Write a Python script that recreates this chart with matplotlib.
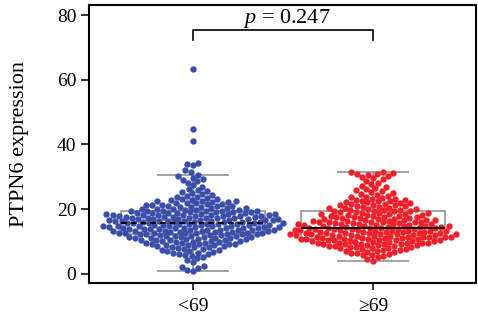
import numpy as np
import matplotlib
matplotlib.use("Agg")
import matplotlib.pyplot as plt

plt.rcParams['font.family'] = ['Liberation Serif', 'DejaVu Serif']
plt.rcParams['mathtext.fontset'] = 'custom'
plt.rcParams['mathtext.rm'] = 'Liberation Serif'
plt.rcParams['mathtext.it'] = 'Liberation Serif:italic'

# expression values per age group
groups = ['<69', '≥69']
expr_young = [
    0.9, 1.3, 1.7, 2.2, 2.5, 3.6, 4.3, 4.8, 5.2, 5.6, 5.9,
    6.1, 6.3, 6.4, 6.6, 6.9, 7.0, 7.2, 7.4, 7.5, 7.6, 7.8,
    8.0, 8.2, 8.3, 8.4, 8.5, 8.6, 8.8, 8.9,
    9.0, 9.1, 9.2, 9.3, 9.4, 9.5, 9.6, 9.7, 9.8, 9.9,
    10.0, 10.1, 10.2, 10.3, 10.4, 10.5, 10.5, 10.6, 10.7, 10.8, 10.9,
    11.0, 11.1, 11.2, 11.2, 11.3, 11.4, 11.4, 11.5, 11.6, 11.6, 11.7, 11.8, 11.9,
    12.0, 12.1, 12.2, 12.2, 12.3, 12.4, 12.4, 12.5, 12.5, 12.6, 12.6, 12.7, 12.8, 12.8, 12.9,
    13.0, 13.1, 13.1, 13.2, 13.2, 13.3, 13.3, 13.4, 13.5, 13.5, 13.6, 13.6, 13.7, 13.7, 13.8, 13.9, 13.9,
    14.0, 14.1, 14.1, 14.2, 14.2, 14.3, 14.3, 14.4, 14.5, 14.5, 14.6, 14.7, 14.7, 14.8, 14.8, 14.9, 14.9,
    15.0, 15.0, 15.1, 15.2, 15.2, 15.3, 15.3, 15.4, 15.4, 15.5, 15.6, 15.6, 15.7, 15.7, 15.8, 15.9, 15.9,
    16.0, 16.1, 16.1, 16.2, 16.3, 16.3, 16.4, 16.4, 16.5, 16.5, 16.6, 16.6, 16.7, 16.8, 16.8, 16.9, 16.9,
    17.0, 17.0, 17.1, 17.2, 17.2, 17.3, 17.3, 17.4, 17.4, 17.5, 17.6, 17.6, 17.7, 17.8, 17.8, 17.9, 17.9,
    18.0, 18.1, 18.1, 18.2, 18.2, 18.3, 18.3, 18.4, 18.5, 18.5, 18.6, 18.7, 18.7, 18.8, 18.9, 18.9,
    19.0, 19.1, 19.2, 19.2, 19.3, 19.4, 19.5, 19.5, 19.6, 19.6, 19.7, 19.8, 19.9,
    20.0, 20.1, 20.2, 20.3, 20.4, 20.5, 20.6, 20.7, 20.8, 20.9,
    21.0, 21.1, 21.2, 21.3, 21.4, 21.5, 21.6, 21.8, 21.9,
    22.0, 22.2, 22.3, 22.4, 22.5, 22.6, 22.7, 22.9,
    23.1, 23.3, 23.5, 23.7, 23.9, 24.1, 24.4, 24.6, 24.9,
    25.2, 25.5, 25.8, 26.3, 26.8, 27.4, 28.2, 28.7,
    29.1, 29.4, 29.8, 30.3, 30.7, 31.5, 32.2, 33.6, 34.1, 34.4,
    41.1, 44.8, 63.3,
]
expr_old = [
    4.0, 4.6, 5.1, 5.4, 5.7, 5.9, 6.1, 6.4, 6.6, 6.8, 6.9,
    7.0, 7.2, 7.3, 7.5, 7.6, 7.8, 7.9,
    8.0, 8.1, 8.2, 8.3, 8.4, 8.5, 8.6, 8.7, 8.8, 8.9,
    9.0, 9.1, 9.2, 9.3, 9.3, 9.4, 9.5, 9.5, 9.6, 9.7, 9.7, 9.8, 9.9,
    10.0, 10.1, 10.1, 10.2, 10.3, 10.4, 10.4, 10.5, 10.6, 10.6, 10.7, 10.8, 10.8, 10.9, 10.9,
    11.0, 11.1, 11.1, 11.2, 11.3, 11.3, 11.4, 11.4, 11.5, 11.5, 11.6, 11.7, 11.7, 11.8, 11.9, 11.9,
    12.0, 12.1, 12.1, 12.2, 12.3, 12.3, 12.4, 12.4, 12.5, 12.5, 12.6, 12.7, 12.7, 12.8, 12.9, 12.9,
    13.0, 13.1, 13.1, 13.2, 13.3, 13.3, 13.4, 13.4, 13.5, 13.6, 13.6, 13.7, 13.8, 13.8, 13.9, 13.9,
    14.0, 14.1, 14.2, 14.2, 14.3, 14.3, 14.4, 14.5, 14.5, 14.6, 14.7, 14.8, 14.8, 14.9, 14.9,
    15.0, 15.1, 15.2, 15.3, 15.3, 15.4, 15.5, 15.5, 15.6, 15.7, 15.8, 15.9, 15.9,
    16.0, 16.1, 16.2, 16.2, 16.3, 16.4, 16.5, 16.6, 16.6, 16.7, 16.8, 16.9,
    17.0, 17.1, 17.2, 17.3, 17.4, 17.5, 17.5, 17.6, 17.7, 17.8, 17.9,
    18.0, 18.1, 18.2, 18.3, 18.4, 18.5, 18.6, 18.7, 18.8, 18.9,
    19.0, 19.2, 19.3, 19.4, 19.5, 19.6, 19.7, 19.8, 19.9,
    20.0, 20.2, 20.3, 20.4, 20.5, 20.7, 20.8, 20.9,
    21.0, 21.2, 21.3, 21.4, 21.5, 21.7, 21.8, 21.9,
    22.1, 22.3, 22.4, 22.5, 22.6, 22.8, 22.9,
    23.1, 23.3, 23.6, 23.8, 23.9, 24.2, 24.5, 24.7, 24.9,
    25.2, 25.5, 25.8, 26.2, 26.5, 26.8, 27.3, 27.8, 28.1, 28.6,
    29.3, 29.7, 29.9, 30.2, 30.6, 30.9, 31.0, 31.3, 31.4, 31.5,
]

# box summary: whisker low, Q1, median, Q3, whisker high
box_young = [0.9, 12.4, 15.7, 19.5, 30.6]
box_old = [4.1, 10.8, 14.1, 19.6, 31.4]
p_value = 0.247

colors = ['#3b4fa9', '#f0202a']


def beeswarm(ax, xc, values, d):
    """Spread points sideways in pixel space so dots of diameter d don't overlap."""
    vals = np.asarray(values, float)
    pts = ax.transData.transform(np.column_stack([np.full(len(vals), xc), vals]))
    xs = np.zeros(len(vals))
    px, py = [], []
    for i in np.argsort(vals):
        x0, y0 = pts[i]
        ax_ = np.array(px)
        ay_ = np.array(py)
        if len(ax_):
            near = np.abs(ay_ - y0) < d
            nx, ny = ax_[near], ay_[near]
        else:
            nx, ny = np.array([]), np.array([])
        cands = [x0]
        for xp, yp in zip(nx, ny):
            dx = np.sqrt(d ** 2 - (yp - y0) ** 2)
            cands += [xp - dx, xp + dx]
        cands.sort(key=lambda c: abs(c - x0))
        for c in cands:
            if np.all((nx - c) ** 2 + (ny - y0) ** 2 >= d ** 2 - 1e-6):
                break
        xs[i] = c
        px.append(c)
        py.append(y0)
    inv = ax.transData.inverted()
    return inv.transform(np.column_stack([xs, pts[:, 1]]))[:, 0]


fig = plt.figure(figsize=(4.78, 3.27), dpi=100)
ax = fig.add_axes([0.186, 0.1346, 0.8096, 0.850])
ax.set_xlim(-0.578, 1.572)
ax.set_ylim(-2.8, 83.1)

positions = [0, 1]
for pos, data, box, col in zip(positions, [expr_young, expr_old],
                               [box_young, box_old], colors):
    lo, q1, med, q3, hi = box
    # box and whiskers behind the dots
    ax.add_patch(plt.Rectangle((pos - 0.4, q1), 0.8, q3 - q1, fill=False,
                               edgecolor='#8a8a8a', linewidth=1.1, zorder=1))
    ax.vlines([pos, pos], [lo, q3], [q1, hi], color='#8a8a8a', linewidth=1.1, zorder=1)
    ax.hlines([lo, hi], pos - 0.2, pos + 0.2, color='#8a8a8a', linewidth=1.1, zorder=1)

    xs = beeswarm(ax, pos, data, 5.9)
    ax.scatter(xs, data, s=21, color=col, linewidths=0, zorder=2)

# medians on top of the dots
ax.hlines(box_young[2], -0.4, 0.4, color='black', linewidth=1.4,
          linestyles=(0, (3, 2)), zorder=3)
ax.hlines(box_old[2], 0.6, 1.4, color='black', linewidth=1.4, zorder=3)

# significance bracket
ax.plot([0, 0, 1, 1], [72.3, 75.4, 75.4, 72.3], color='black', linewidth=1.2,
        solid_joinstyle='miter')
ax.text(0.52, 77.4, f'$p$ = {p_value}', ha='center', va='baseline', fontsize=16)

ax.set_xticks(positions)
ax.set_xticklabels(groups)
ax.set_yticks([0, 20, 40, 60, 80])
ax.tick_params(axis='both', labelsize=14, width=1.1, color='black')
ax.tick_params(axis='y', length=6, pad=3)
ax.tick_params(axis='x', length=5, pad=6)
ax.set_ylabel('PTPN6 expression', fontsize=16, labelpad=20)
for s in ax.spines.values():
    s.set_linewidth(1.5)

fig.savefig('out.png', dpi=100)
